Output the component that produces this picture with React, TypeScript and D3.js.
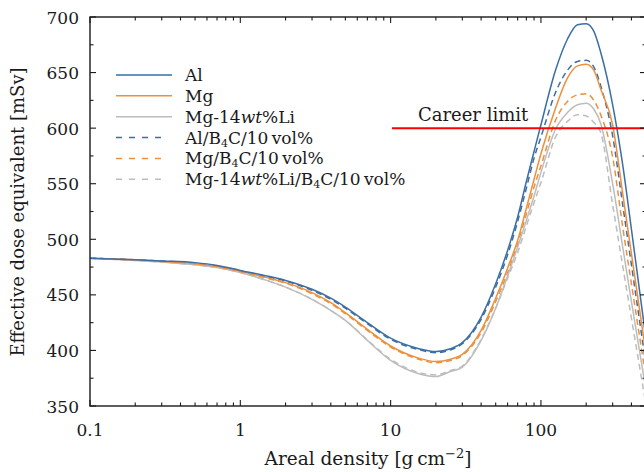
import React, { useRef, useEffect } from 'react';
import * as d3 from 'd3';

// areal density grid [g cm^-2]
const arealDensity = [0.1, 0.2, 0.3, 0.5, 0.7, 1, 1.5, 2, 3, 4, 5, 7, 10, 15, 20, 25, 30, 40, 50, 60, 70, 80, 90, 100, 125, 150, 175, 200, 225, 250, 300, 350, 400, 500];

// effective dose equivalent [mSv]
const doseAl = [483, 481.5, 480.5, 479, 476.5, 472, 467, 463, 455, 447, 439, 425, 411, 402, 399, 401.5, 407, 430, 460, 490, 520, 552, 579, 603, 652, 680, 693, 694, 687, 668, 621, 567, 509, 410];
const doseMg = [483, 481.5, 480, 478, 475.5, 471, 465.5, 461, 452, 443, 434, 419, 404, 393.5, 390, 392, 396.5, 418, 447, 474, 499, 528, 554, 577, 618, 645, 656, 657.5, 652, 635, 603, 541, 487, 397];
const doseMgLi = [483, 481, 479.5, 477, 474.5, 470, 463, 457, 446, 436, 427, 409, 391, 379.5, 376.5, 381, 385, 409, 438, 467, 493, 517, 539, 560, 599, 614, 621, 622.5, 617, 604, 550, 493, 444, 364];
const doseAlB4C = [483, 481.5, 480.5, 478.5, 476, 471.5, 466.5, 462.5, 454, 446, 438, 424, 410, 401, 398, 400.5, 406, 428, 457, 486, 516, 546, 573, 592, 632, 652, 660, 661, 655, 638, 593, 531, 477, 387];
const doseMgB4C = [483, 481.5, 480, 477.5, 475, 470.5, 465, 460.5, 451, 442, 433, 418, 403, 392.5, 389, 391, 395.5, 416, 444, 470, 496, 523, 547, 566, 607, 624, 630, 631, 625, 612, 574, 511, 460, 375];
const doseMgLiB4C = [483, 481, 479.5, 477, 474.5, 470, 463, 457, 446, 436, 427, 409.5, 392, 380.5, 378, 382, 386, 410, 438, 465, 488, 512, 533, 551, 592, 606, 612, 611, 605, 596, 531, 476, 429, 351];

const careerLimit = 600;
const yTicks = [350, 400, 450, 500, 550, 600, 650, 700];
const xTicks = [0.1, 1, 10, 100];
const xTickLabels = ['0.1', '1', '10', '100'];

const blue = '#3a6ea5';
const orange = '#ee8f3c';
const grey = '#bdbdbd';

// label pieces: plain, italic, subscript
const series = [
  { values: doseAl, color: blue, dashed: false, label: [['Al']] },
  { values: doseMg, color: orange, dashed: false, label: [['Mg']] },
  { values: doseMgLi, color: grey, dashed: false, label: [['Mg-14'], ['wt', 'i'], ['%Li']] },
  { values: doseAlB4C, color: blue, dashed: true, label: [['Al/B'], ['4', 's'], ['C/10\u2009vol%']] },
  { values: doseMgB4C, color: orange, dashed: true, label: [['Mg/B'], ['4', 's'], ['C/10\u2009vol%']] },
  { values: doseMgLiB4C, color: grey, dashed: true, label: [['Mg-14'], ['wt', 'i'], ['%Li/B'], ['4', 's'], ['C/10\u2009vol%']] },
];

export default function App() {
  const svgRef = useRef<SVGSVGElement>(null);

  useEffect(() => {
    const svg = d3.select(svgRef.current);
    svg.selectAll('*').remove();

    const left = 90, top = 17, bottom = 406;
    const x = d3.scaleLog().domain([0.1, 500]).range([left, 646]);
    const y = d3.scaleLinear().domain([350, 700]).range([bottom, top]);
    const right = x(500);
    const font = 'DejaVu Serif, serif';
    const ink = '#1a1a1a';

    svg.append('defs').append('clipPath').attr('id', 'plot')
      .append('rect').attr('x', left).attr('y', top).attr('width', right - left).attr('height', bottom - top);

    // curves
    const line = d3.line<number>()
      .x((_, i) => x(arealDensity[i]))
      .y(d => y(d))
      .curve(d3.curveMonotoneX);

    const g = svg.append('g').attr('clip-path', 'url(#plot)');
    series.slice().reverse().forEach(s => {
      g.append('path')
        .attr('d', line(s.values))
        .attr('fill', 'none')
        .attr('stroke', s.color)
        .attr('stroke-width', 1.5)
        .attr('stroke-dasharray', s.dashed ? '6,4' : null);
    });

    // career limit
    g.append('line')
      .attr('x1', x(10.2)).attr('x2', right)
      .attr('y1', y(careerLimit)).attr('y2', y(careerLimit))
      .attr('stroke', '#ff0000').attr('stroke-width', 2);
    svg.append('text')
      .attr('x', x(15.2)).attr('y', y(careerLimit) - 7)
      .attr('font-family', font).attr('font-size', 18).attr('fill', ink)
      .text('Career limit');

    // frame
    svg.append('rect')
      .attr('x', left).attr('y', top).attr('width', right - left).attr('height', bottom - top)
      .attr('fill', 'none').attr('stroke', ink).attr('stroke-width', 1.4);

    // y ticks (both sides, inward)
    const yMinor = d3.range(375, 700, 50);
    const tk = svg.append('g').attr('stroke', ink).attr('stroke-width', 1.1);
    yTicks.forEach(v => {
      tk.append('line').attr('x1', left).attr('x2', left + 6).attr('y1', y(v)).attr('y2', y(v));
      tk.append('line').attr('x1', right).attr('x2', right - 6).attr('y1', y(v)).attr('y2', y(v));
    });
    yMinor.forEach(v => {
      tk.append('line').attr('x1', left).attr('x2', left + 3.5).attr('y1', y(v)).attr('y2', y(v));
      tk.append('line').attr('x1', right).attr('x2', right - 3.5).attr('y1', y(v)).attr('y2', y(v));
    });

    // x ticks (log, both sides, inward)
    const xMinor: number[] = [];
    [0.1, 1, 10, 100].forEach(d => d3.range(2, 10).forEach(k => { if (d * k <= 500) xMinor.push(d * k); }));
    xTicks.forEach(v => {
      tk.append('line').attr('x1', x(v)).attr('x2', x(v)).attr('y1', bottom).attr('y2', bottom - 6);
      tk.append('line').attr('x1', x(v)).attr('x2', x(v)).attr('y1', top).attr('y2', top + 6);
    });
    xMinor.forEach(v => {
      tk.append('line').attr('x1', x(v)).attr('x2', x(v)).attr('y1', bottom).attr('y2', bottom - 3.5);
      tk.append('line').attr('x1', x(v)).attr('x2', x(v)).attr('y1', top).attr('y2', top + 3.5);
    });

    // tick labels
    svg.append('g').selectAll('text').data(yTicks).enter().append('text')
      .attr('x', left - 11).attr('y', d => y(d) + 6.5)
      .attr('text-anchor', 'end')
      .attr('font-family', font).attr('font-size', 17).attr('fill', ink)
      .text(d => d);
    svg.append('g').selectAll('text').data(xTicks).enter().append('text')
      .attr('x', d => x(d)).attr('y', 436)
      .attr('text-anchor', 'middle')
      .attr('font-family', font).attr('font-size', 17).attr('fill', ink)
      .text((_, i) => xTickLabels[i]);

    // axis titles
    const xt = svg.append('text')
      .attr('x', 368).attr('y', 465)
      .attr('text-anchor', 'middle')
      .attr('font-family', font).attr('font-size', 18.5).attr('fill', ink);
    xt.append('tspan').text('Areal density [g\u2009cm');
    xt.append('tspan').attr('dy', -7).attr('font-size', 13).text('\u22122');
    xt.append('tspan').attr('dy', 7).text(']');

    svg.append('text')
      .attr('transform', 'translate(24,212) rotate(-90)')
      .attr('text-anchor', 'middle')
      .attr('font-family', font).attr('font-size', 18).attr('fill', ink)
      .text('Effective dose equivalent [mSv]');

    // legend
    const lg = svg.append('g');
    series.forEach((s, i) => {
      const ly = 75 + i * 20.85;
      lg.append('line')
        .attr('x1', 116).attr('x2', s.dashed ? 162 : 172)
        .attr('y1', ly).attr('y2', ly)
        .attr('stroke', s.color).attr('stroke-width', 1.5)
        .attr('stroke-dasharray', s.dashed ? '6,7' : null);
      const t = lg.append('text')
        .attr('x', 185).attr('y', ly + 6)
        .attr('font-family', font).attr('font-size', 17).attr('fill', ink);
      let shifted = false;
      s.label.forEach(([txt, kind]) => {
        const sp = t.append('tspan').text(txt);
        if (kind === 'i') sp.attr('font-style', 'italic');
        if (kind === 's') { sp.attr('dy', 3).attr('font-size', 11); shifted = true; }
        else if (shifted) { sp.attr('dy', -3); shifted = false; }
      });
    });
  }, []);

  return (
    <svg
      ref={svgRef}
      width={644}
      height={472}
      style={{ position: 'absolute', left: 0, top: 0, background: '#fff' }}
    />
  );
}
